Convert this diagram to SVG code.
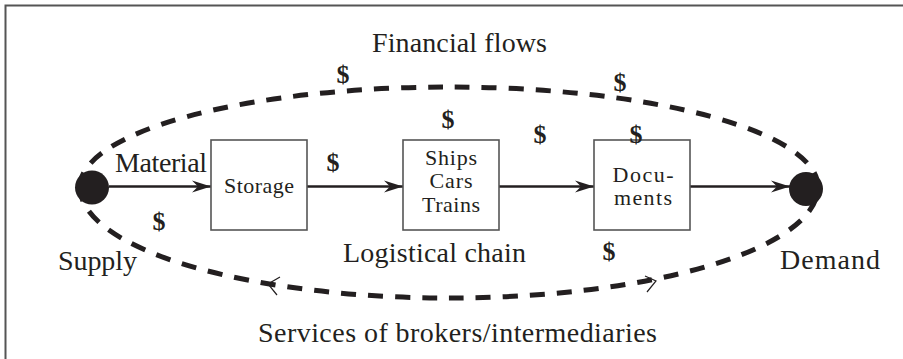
<svg xmlns="http://www.w3.org/2000/svg" width="903" height="359" viewBox="0 0 903 359">
<style>
.lbl{font-family:"Liberation Serif","Times New Roman",serif;font-size:28px;fill:#231f20}
.box-t{font-family:"Liberation Serif","Times New Roman",serif;font-size:22px;fill:#231f20;text-anchor:middle}
.dol{font-family:"Liberation Serif","Times New Roman",serif;font-size:26px;font-weight:bold;fill:#231f20;text-anchor:middle}
.box{fill:#fff;stroke:#555;stroke-width:1.6}
.flow{fill:none;stroke:#231f20;stroke-width:5;stroke-dasharray:15 12}
.chev{fill:none;stroke:#231f20;stroke-width:1.2}
.arr{stroke:#231f20;stroke-width:2.5;marker-end:url(#ah)}
.dot{fill:#231f20}
</style>
<defs>
<marker id="ah" markerUnits="userSpaceOnUse" markerWidth="22" markerHeight="16" refX="19" refY="7" orient="auto" viewBox="0 0 22 14">
<path d="M19,7 L0,1 L6,7 L0,13 Z" fill="#231f20"/>
</marker>
</defs>
<rect width="903" height="359" fill="#fff"/>
<path d="M5.5,359 V5.5 H903" fill="none" stroke="#555" stroke-width="2"/>

<g id="connectors">
<path class="flow" d="M80,187 A369,100 0 0 1 818,187 A369,111 0 0 1 80,187"/>
<path class="chev" d="M280,277 L268,284 L277,295"/>
<path class="chev" d="M645,276 L656,281 L647,292"/>
<line class="arr" x1="109" y1="186.5" x2="211" y2="186.5"/>
<line class="arr" x1="307" y1="186.5" x2="403" y2="186.5"/>
<line class="arr" x1="499" y1="186.5" x2="594" y2="186.5"/>
<line class="arr" x1="690" y1="186.5" x2="790" y2="186.5"/>
</g>

<g id="supply">
<circle class="dot" cx="92" cy="187.5" r="17"/>
<text class="lbl" x="58" y="270" textLength="79">Supply</text>
</g>
<g id="demand">
<circle class="dot" cx="806" cy="189" r="17"/>
<text class="lbl" x="780" y="269" textLength="100">Demand</text>
</g>
<g id="storage">
<rect class="box" x="211" y="140" width="96" height="90"/>
<text class="box-t" x="259" y="193" textLength="70">Storage</text>
</g>
<g id="transport">
<rect class="box" x="403" y="140" width="96" height="90"/>
<text class="box-t" x="451" y="165" textLength="52">Ships</text>
<text class="box-t" x="451" y="188" textLength="43">Cars</text>
<text class="box-t" x="451" y="212" textLength="58">Trains</text>
</g>
<g id="documents">
<rect class="box" x="594" y="140" width="96" height="90"/>
<text class="box-t" x="643" y="182" textLength="61">Docu-</text>
<text class="box-t" x="643" y="205" textLength="58">ments</text>
</g>

<g id="labels">
<text class="lbl" x="372" y="52" textLength="175">Financial flows</text>
<text class="lbl" x="115" y="172" textLength="92">Material</text>
<text class="lbl" x="343" y="262" textLength="183">Logistical chain</text>
<text class="lbl" x="258" y="342" textLength="399">Services of brokers/intermediaries</text>
<text class="dol" x="343" y="83">$</text>
<text class="dol" x="620" y="91">$</text>
<text class="dol" x="448" y="128">$</text>
<text class="dol" x="540" y="143">$</text>
<text class="dol" x="636" y="143">$</text>
<text class="dol" x="333" y="171">$</text>
<text class="dol" x="159" y="230">$</text>
<text class="dol" x="609" y="260">$</text>
</g>
</svg>
